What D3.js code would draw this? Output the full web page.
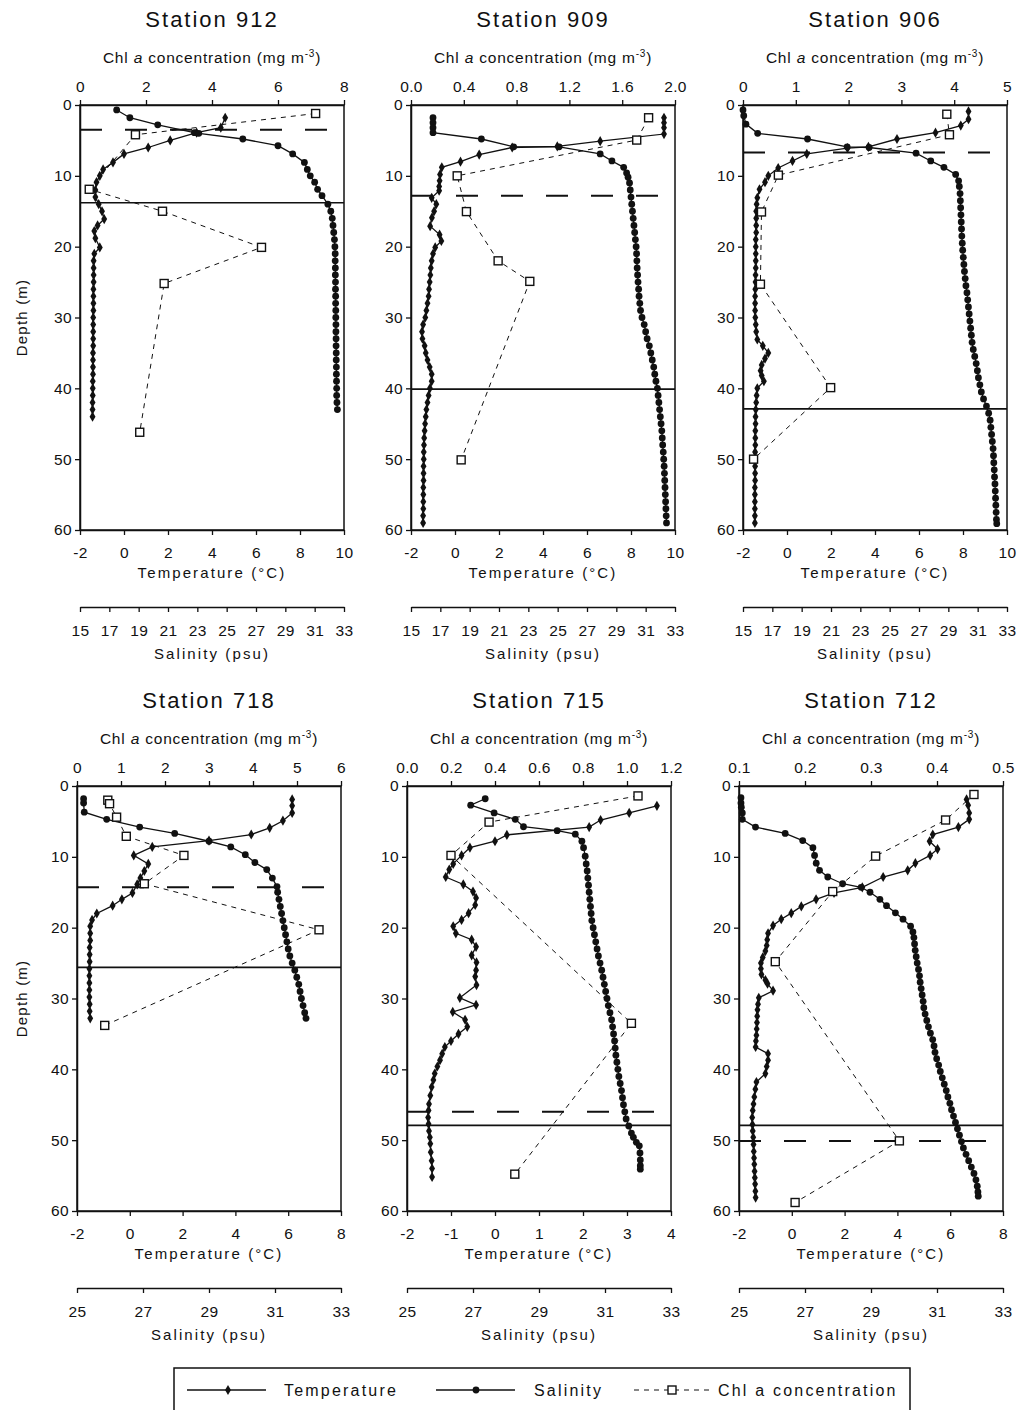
<!DOCTYPE html>
<html>
<head>
<meta charset="utf-8">
<script src="https://cdn.jsdelivr.net/npm/d3@7"></script>
<style>
  body { margin: 0; background: #fff; }
  svg text { font-family: "Liberation Sans", Arial, sans-serif; fill: #111; }
  .tick text { font-size: 15.5px; letter-spacing: 0.4px; }
  .title { font-size: 22px; letter-spacing: 2px; }
  .chl { font-size: 15.5px; letter-spacing: 0.8px; }
  .big { font-size: 15px; letter-spacing: 2.1px; }
  .leg { font-size: 16px; letter-spacing: 2.2px; }
</style>
</head>
<body>
<svg width="1023" height="1410"></svg>
<script>
var stations = ["Station 912", "Station 909", "Station 906", "Station 718", "Station 715", "Station 712"];

var chlDomains = [[0, 8], [0, 2], [0, 5], [0, 6], [0, 1.2], [0.1, 0.5]];
var chlTicks = [
  [0, 2, 4, 6, 8],
  [0, 0.4, 0.8, 1.2, 1.6, 2.0],
  [0, 1, 2, 3, 4, 5],
  [0, 1, 2, 3, 4, 5, 6],
  [0, 0.2, 0.4, 0.6, 0.8, 1.0, 1.2],
  [0.1, 0.2, 0.3, 0.4, 0.5]
];
var chlDecimals = [0, 1, 0, 0, 1, 1];
var tempDomains = [[-2, 10], [-2, 10], [-2, 10], [-2, 8], [-2, 4], [-2, 8]];
var tempTicks = [
  [-2, 0, 2, 4, 6, 8, 10],
  [-2, 0, 2, 4, 6, 8, 10],
  [-2, 0, 2, 4, 6, 8, 10],
  [-2, 0, 2, 4, 6, 8],
  [-2, -1, 0, 1, 2, 3, 4],
  [-2, 0, 2, 4, 6, 8]
];
var salDomains = [[15, 33], [15, 33], [15, 33], [25, 33], [25, 33], [25, 33]];
var salTicksUpper = [15, 17, 19, 21, 23, 25, 27, 29, 31, 33];
var salTicksLower = [25, 27, 29, 31, 33];
var depthTicks = [0, 10, 20, 30, 40, 50, 60];

// mixed layer lines (m)
var dashedDepth = [3.5, 12.8, 6.7, 14.3, 46.0, 50.1];
var solidDepth = [13.8, 40.1, 42.9, 25.6, 47.9, 47.9];

// [depth, value]
var t912 = [[1.8,4.6],[3.2,4.4],[3.9,3.3],[5.0,2.1],[6.0,1.1],[6.9,0.0],[8.1,-0.5],[9.1,-0.95],[10.0,-1.1],[10.9,-1.25],[12.0,-1.3],[13.0,-1.3],[14.0,-1.15],[15.0,-1.0],[16.1,-0.9],[17.0,-1.2],[17.8,-1.35],[18.8,-1.3],[20.1,-1.1],[21.0,-1.35],[22,-1.38],[23,-1.38],[24,-1.38],[25,-1.38],[26,-1.39],[27,-1.39],[28,-1.39],[29,-1.39],[30,-1.4],[31,-1.4],[32,-1.4],[33,-1.4],[34,-1.4],[35,-1.41],[36,-1.41],[37,-1.41],[38,-1.41],[39,-1.42],[40,-1.42],[41,-1.42],[42,-1.43],[43,-1.43],[44,-1.43]];
var s912 = [[0.7,17.5],[1.8,18.4],[2.8,20.3],[3.9,22.8],[4.0,23.1],[4.8,26.1],[5.75,28.5],[6.9,29.5],[8.1,30.3],[9.1,30.5],[10.0,30.7],[10.9,31.0],[11.9,31.2],[12.8,31.5],[14.0,31.9],[15.0,32.1],[16.0,32.2],[17.0,32.25],[18.0,32.3],[19,32.35],[20,32.38],[21,32.4],[22,32.4],[23,32.41],[24,32.41],[25,32.42],[26,32.42],[27,32.43],[28,32.43],[29,32.44],[30,32.44],[31,32.45],[32,32.45],[33,32.46],[34,32.46],[35,32.47],[36,32.47],[37,32.48],[38,32.48],[39,32.49],[40,32.5],[41,32.5],[42,32.52],[43,32.55]];
var c912 = [[1.2,7.14],[4.2,1.68],[11.9,0.28],[15.0,2.5],[20.1,5.5],[25.2,2.55],[46.2,1.81]];

var t909 = [[1.8,9.5],[2.5,9.5],[3.2,9.5],[4.1,9.5],[5.1,6.6],[5.85,4.65],[6.0,2.6],[7.0,1.1],[8.0,0.25],[8.8,-0.6],[9.8,-0.68],[10.7,-0.7],[11.5,-0.72],[12.1,-0.72],[13.1,-1.06],[14.0,-0.85],[15.0,-0.95],[15.9,-1.05],[17.1,-1.13],[18.3,-0.7],[19.2,-0.62],[20.1,-0.9],[21.0,-1.0],[22,-1.06],[23,-1.1],[24,-1.12],[25,-1.15],[26,-1.18],[27,-1.2],[28,-1.25],[29,-1.3],[30,-1.35],[31,-1.45],[32,-1.5],[33,-1.48],[34,-1.38],[35,-1.33],[36,-1.25],[37,-1.15],[38,-1.06],[39,-1.06],[40,-1.14],[41,-1.2],[42,-1.25],[43,-1.3],[44,-1.33],[45,-1.36],[46,-1.38],[47,-1.4],[48,-1.41],[49,-1.42],[50,-1.42],[51,-1.43],[52,-1.43],[53,-1.43],[54,-1.44],[55,-1.44],[56,-1.44],[57,-1.44],[58,-1.45],[59,-1.45]];
var s909 = [[1.8,16.5],[2.5,16.5],[3.2,16.5],[3.9,16.5],[4.8,19.8],[5.9,22.0],[5.9,25.1],[6.9,27.9],[7.9,28.7],[8.8,29.5],[9.6,29.7],[10.2,29.8],[11,29.9],[12,29.95],[13,30.0],[14,30.05],[15,30.1],[16,30.15],[17,30.2],[18,30.25],[19,30.3],[20,30.35],[21,30.38],[22,30.4],[23,30.42],[24,30.45],[25,30.48],[26,30.52],[27,30.55],[28,30.6],[29,30.65],[30,30.75],[31,30.9],[32,31.0],[33,31.1],[34,31.25],[35,31.35],[36,31.45],[37,31.55],[38,31.62],[39,31.7],[40,31.8],[41,31.85],[42,31.9],[43,31.95],[44,32.0],[45,32.05],[46,32.1],[47,32.13],[48,32.16],[49,32.2],[50,32.23],[51,32.26],[52,32.28],[53,32.3],[54,32.32],[55,32.34],[56,32.36],[57,32.38],[58,32.4],[59,32.42]];
var c909 = [[1.8,1.8],[4.95,1.71],[10.0,0.35],[15.05,0.42],[22.0,0.66],[24.9,0.9],[50.1,0.38]];

var t906 = [[0.9,8.25],[2.0,8.25],[2.9,7.9],[3.9,6.75],[4.8,5.0],[5.9,3.7],[6.1,2.75],[6.9,0.9],[7.9,0.25],[8.9,-0.4],[10.0,-0.85],[10.9,-1.0],[11.9,-1.25],[13.1,-1.35],[14,-1.38],[15,-1.4],[16,-1.4],[17,-1.4],[18,-1.4],[19,-1.42],[20,-1.42],[21,-1.42],[22,-1.42],[23,-1.42],[24,-1.43],[25,-1.43],[26,-1.44],[27,-1.45],[28,-1.45],[29,-1.45],[30,-1.44],[31,-1.42],[32,-1.4],[33.1,-1.35],[34,-1.1],[35,-0.85],[35.8,-1.0],[36.7,-1.15],[37.5,-1.2],[38.2,-1.15],[39,-1.05],[40,-1.35],[41,-1.38],[42,-1.4],[43,-1.42],[44,-1.43],[45,-1.43],[46,-1.44],[47,-1.44],[48,-1.44],[49,-1.45],[50,-1.45],[51,-1.45],[52,-1.45],[53,-1.45],[54,-1.46],[55,-1.46],[56,-1.46],[57,-1.46],[58,-1.46],[59,-1.46]];
var s906 = [[0.7,15.0],[1.5,15.05],[2.7,15.2],[4.0,16.0],[4.8,19.4],[5.9,22.1],[6.0,23.6],[6.8,26.8],[7.9,27.8],[8.8,28.7],[9.8,29.5],[10.7,29.7],[11.5,29.75],[12.5,29.8],[13.5,29.82],[14.5,29.84],[15.5,29.86],[16.5,29.88],[17.5,29.9],[18.5,29.92],[19.5,29.95],[20.5,29.98],[21.5,30.02],[22.5,30.06],[23.5,30.1],[24.5,30.15],[25.5,30.2],[26.5,30.27],[27.5,30.32],[28.5,30.37],[29.5,30.42],[30.5,30.47],[31.5,30.52],[32.5,30.57],[33.5,30.62],[34.5,30.7],[35.5,30.8],[36.5,30.9],[37.5,30.98],[38.5,31.05],[39.5,31.15],[40.5,31.25],[41.5,31.4],[42.5,31.6],[43.5,31.75],[44.5,31.85],[45.5,31.9],[46.5,31.95],[47.5,32.0],[48.5,32.05],[49.5,32.08],[50.5,32.1],[51.5,32.13],[52.5,32.15],[53.5,32.18],[54.5,32.2],[55.5,32.22],[56.5,32.24],[57.5,32.26],[58.5,32.28],[59.1,32.3]];
var c906 = [[1.3,3.86],[4.2,3.91],[9.9,0.67],[15.1,0.35],[25.3,0.33],[39.9,1.66],[50.0,0.2]];

var t718 = [[1.9,6.15],[2.8,6.15],[3.8,6.15],[4.9,5.8],[5.9,5.3],[6.85,4.6],[7.7,3.0],[8.6,0.85],[9.8,0.15],[11.0,0.7],[12.0,0.55],[13.0,0.4],[13.9,0.28],[15.1,0.1],[16.0,-0.3],[16.9,-0.65],[18.0,-1.25],[18.9,-1.43],[19.8,-1.5],[20.8,-1.5],[21.8,-1.5],[22.8,-1.52],[23.8,-1.52],[24.8,-1.52],[25.8,-1.53],[26.8,-1.53],[27.8,-1.53],[28.8,-1.53],[29.8,-1.53],[30.8,-1.52],[31.8,-1.52],[32.8,-1.5]];
var s718 = [[1.8,25.2],[2.4,25.2],[3.7,25.22],[4.7,25.9],[5.8,26.9],[6.7,27.96],[7.8,29.0],[8.6,29.66],[9.7,30.1],[10.8,30.39],[11.8,30.75],[13.0,30.92],[14.2,31.06],[15.0,31.08],[16.0,31.12],[17.0,31.16],[18.0,31.2],[19.0,31.24],[20.0,31.28],[21.0,31.32],[22.0,31.36],[23.0,31.4],[24.0,31.45],[25.0,31.52],[26.0,31.6],[27.0,31.66],[28.0,31.72],[29.0,31.76],[30.0,31.8],[31.0,31.85],[32.0,31.9],[32.8,31.94]];
var c718 = [[2.0,0.7],[2.5,0.74],[4.4,0.9],[7.1,1.12],[9.8,2.43],[13.8,1.53],[20.3,5.5],[33.8,0.63]];

var t715 = [[2.8,3.68],[3.8,3.05],[4.8,2.4],[5.8,2.14],[6.9,0.27],[7.8,0.0],[8.7,-0.57],[9.8,-0.76],[11.0,-0.95],[11.8,-1.04],[12.85,-1.12],[13.9,-0.72],[14.9,-0.5],[15.8,-0.43],[16.8,-0.45],[17.95,-0.6],[18.9,-0.76],[19.8,-0.95],[20.8,-0.89],[21.7,-0.53],[22.7,-0.43],[23.9,-0.53],[24.9,-0.42],[26.0,-0.43],[26.9,-0.45],[28.1,-0.42],[29.9,-0.8],[30.9,-0.43],[31.9,-0.96],[33.0,-0.68],[34.0,-0.63],[35.0,-0.83],[36.0,-1.0],[36.85,-1.14],[37.8,-1.2],[38.7,-1.25],[39.6,-1.31],[40.6,-1.37],[41.5,-1.4],[42.5,-1.44],[43.7,-1.47],[44.9,-1.5],[45.8,-1.51],[46.8,-1.52],[47.7,-1.51],[48.7,-1.5],[49.6,-1.48],[50.5,-1.47],[51.7,-1.46],[52.9,-1.44],[54.0,-1.43],[55.2,-1.43]];
var s715 = [[1.8,27.37],[2.7,26.93],[3.8,27.64],[4.7,28.28],[5.75,28.53],[6.3,29.55],[6.8,30.1],[7.8,30.3],[8.7,30.35],[9.9,30.4],[11,30.43],[12,30.46],[13,30.48],[14,30.5],[15,30.52],[16,30.54],[17,30.56],[18,30.58],[19,30.6],[20,30.64],[21,30.68],[22,30.72],[23,30.76],[24,30.8],[25,30.85],[26,30.9],[27,30.94],[28,30.98],[29,31.02],[30,31.06],[31,31.1],[32,31.15],[33,31.2],[34,31.23],[35,31.26],[36,31.29],[37,31.31],[38,31.33],[39,31.36],[40,31.39],[41,31.42],[42,31.46],[43,31.5],[44,31.53],[45,31.56],[46,31.6],[47,31.64],[48,31.72],[49,31.8],[49.6,31.86],[50.3,31.95],[50.8,32.04],[51.8,32.06],[52.8,32.07],[53.6,32.07],[54.1,32.07]];
var c715 = [[1.4,1.05],[5.1,0.373],[9.8,0.2],[33.5,1.02],[54.8,0.49]];

var t712 = [[1.9,6.62],[2.7,6.68],[3.8,6.72],[4.7,6.72],[5.8,6.31],[6.85,5.34],[7.8,5.22],[8.9,5.52],[9.8,5.24],[10.9,4.68],[11.9,4.39],[12.85,3.46],[14.3,2.67],[15.1,1.6],[16.0,0.92],[17.0,0.36],[17.95,-0.02],[18.8,-0.4],[19.7,-0.71],[20.8,-0.9],[21.7,-0.93],[22.5,-0.95],[23.3,-1.0],[24.2,-1.1],[25.0,-1.17],[25.8,-1.17],[26.6,-1.15],[27.4,-1.0],[27.9,-0.92],[28.9,-0.71],[29.9,-1.25],[30.8,-1.28],[31.6,-1.3],[32.5,-1.31],[33.4,-1.32],[34.3,-1.33],[35.2,-1.34],[36.0,-1.36],[36.85,-1.37],[37.8,-0.9],[38.7,-0.9],[39.6,-0.95],[40.6,-1.0],[41.8,-1.34],[42.8,-1.38],[43.9,-1.42],[44.9,-1.45],[45.8,-1.48],[46.8,-1.5],[47.8,-1.49],[48.7,-1.48],[49.6,-1.46],[50.6,-1.45],[51.6,-1.44],[52.5,-1.43],[53.4,-1.42],[54.4,-1.41],[55.3,-1.4],[56.2,-1.39],[57.2,-1.38],[58.1,-1.37]];
var s712 = [[1.65,25.06],[2.4,25.06],[3.0,25.07],[3.8,25.1],[4.7,25.1],[5.8,25.5],[6.7,26.4],[7.7,26.93],[8.7,27.24],[9.8,27.29],[10.9,27.34],[11.9,27.44],[12.85,27.69],[13.8,28.14],[14.3,28.7],[15.0,28.97],[16.0,29.27],[16.9,29.47],[17.9,29.74],[18.8,29.97],[19.8,30.2],[20.6,30.27],[21.4,30.3],[22.3,30.32],[23.2,30.34],[24.1,30.37],[25.0,30.4],[25.9,30.44],[26.8,30.47],[27.7,30.49],[28.6,30.52],[29.5,30.55],[30.4,30.58],[31.3,30.6],[32.2,30.64],[33.1,30.69],[34,30.74],[34.9,30.8],[35.8,30.87],[36.7,30.91],[37.6,30.94],[38.5,30.99],[39.4,31.05],[40.3,31.1],[41.2,31.16],[42.1,31.22],[43.0,31.28],[43.9,31.33],[44.8,31.39],[45.7,31.44],[46.6,31.5],[47.5,31.56],[48.4,31.62],[49.3,31.68],[50.2,31.74],[51.1,31.8],[52.0,31.88],[52.9,31.96],[53.8,32.04],[54.7,32.12],[55.6,32.18],[56.5,32.22],[57.3,32.24],[57.9,32.25]];
var c712 = [[1.2,0.456],[4.8,0.413],[9.9,0.307],[14.9,0.242],[24.8,0.155],[50.1,0.343],[58.8,0.185]];

var temperature = [t912, t909, t906, t718, t715, t712];
var salinity = [s912, s909, s906, s718, s715, s712];
var chl = [c912, c909, c906, c718, c715, c712];

// layout
var panelLeft = [80, 411, 743, 77, 407, 739],
  panelWidth = 264,
  rowTop = [105, 786],
  rowBottom = [530, 1211];

var svg = d3.select("svg");
var diamond = d3.symbol().type(d3.symbolDiamond).size(30);

function fmt(dec) {
  return function (v) { return dec ? v.toFixed(dec) : String(v); };
}

function chlLabel(g, x, y) {
  var t = g.append("text").attr("class", "chl").attr("x", x).attr("y", y).attr("text-anchor", "middle");
  t.append("tspan").text("Chl ");
  t.append("tspan").attr("font-style", "italic").text("a");
  t.append("tspan").text(" concentration (mg m");
  t.append("tspan").attr("font-size", "10px").attr("dy", -6).text("-3");
  t.append("tspan").attr("dy", 6).text(")");
}

function styleAxis(sel) {
  sel.select(".domain").attr("stroke", "#111").attr("stroke-width", 1.5);
  sel.selectAll(".tick line").attr("stroke", "#111").attr("stroke-width", 1.3);
}

stations.forEach(function (name, i) {
  var row = i < 3 ? 0 : 1;
  var x0 = panelLeft[i], x1 = x0 + panelWidth, top = rowTop[row], bottom = rowBottom[row];
  var g = svg.append("g");

  var y = d3.scaleLinear().domain([0, 60]).range([top, bottom]);
  var xT = d3.scaleLinear().domain(tempDomains[i]).range([x0, x1]);
  var xS = d3.scaleLinear().domain(salDomains[i]).range([x0, x1]);
  var xC = d3.scaleLinear().domain(chlDomains[i]).range([x0, x1]);
  var cx = (x0 + x1) / 2;

  g.append("text").attr("class", "title").attr("x", cx).attr("y", top - 78)
    .attr("text-anchor", "middle").text(name);
  chlLabel(g, cx, top - 42);

  // frame
  g.append("rect").attr("x", x0).attr("y", top).attr("width", panelWidth).attr("height", bottom - top)
    .attr("fill", "none").attr("stroke", "#111").attr("stroke-width", 1.5);

  g.append("g").attr("transform", "translate(0," + top + ")")
    .call(d3.axisTop(xC).tickValues(chlTicks[i]).tickFormat(fmt(chlDecimals[i])).tickSize(5).tickSizeOuter(0).tickPadding(8))
    .call(styleAxis);
  g.append("g").attr("transform", "translate(" + x0 + ",0)")
    .call(d3.axisLeft(y).tickValues(depthTicks).tickSize(5).tickSizeOuter(0).tickPadding(3))
    .call(styleAxis);
  g.append("g").attr("transform", "translate(0," + bottom + ")")
    .call(d3.axisBottom(xT).tickValues(tempTicks[i]).tickFormat(fmt(0)).tickSize(5).tickSizeOuter(0).tickPadding(12))
    .call(styleAxis);
  g.append("text").attr("class", "big").attr("x", cx).attr("y", bottom + 48).attr("text-anchor", "middle")
    .text("Temperature (°C)");

  g.append("g").attr("transform", "translate(0," + (bottom + 77) + ")")
    .call(d3.axisBottom(xS).tickValues(row ? salTicksLower : salTicksUpper).tickFormat(fmt(0)).tickSize(5).tickSizeOuter(0).tickPadding(13))
    .call(styleAxis);
  g.append("text").attr("class", "big").attr("x", cx).attr("y", bottom + 129).attr("text-anchor", "middle")
    .text("Salinity (psu)");

  if (i % 3 === 0) {
    var ym = (top + bottom) / 2;
    g.append("text").attr("class", "big").attr("transform", "translate(27," + ym + ") rotate(-90)")
      .attr("text-anchor", "middle").style("letter-spacing", "1.2px").text("Depth (m)");
  }

  // mixed layer markers
  g.append("line").attr("x1", x0).attr("x2", x1 - 14)
    .attr("y1", y(dashedDepth[i])).attr("y2", y(dashedDepth[i]))
    .attr("stroke", "#111").attr("stroke-width", 2).attr("stroke-dasharray", "22,23");
  g.append("line").attr("x1", x0).attr("x2", x1)
    .attr("y1", y(solidDepth[i])).attr("y2", y(solidDepth[i]))
    .attr("stroke", "#111").attr("stroke-width", 1.7);

  // temperature
  var lineT = d3.line().x(function (d) { return xT(d[1]); }).y(function (d) { return y(d[0]); });
  g.append("path").datum(temperature[i]).attr("d", lineT)
    .attr("fill", "none").attr("stroke", "#111").attr("stroke-width", 1.3);
  g.selectAll(".tm").data(temperature[i]).enter().append("path").attr("class", "tm")
    .attr("d", diamond).attr("fill", "#111")
    .attr("transform", function (d) { return "translate(" + xT(d[1]) + "," + y(d[0]) + ")"; });

  // salinity
  var lineS = d3.line().x(function (d) { return xS(d[1]); }).y(function (d) { return y(d[0]); });
  g.append("path").datum(salinity[i]).attr("d", lineS)
    .attr("fill", "none").attr("stroke", "#111").attr("stroke-width", 1.3);
  g.selectAll(".sm").data(salinity[i]).enter().append("circle").attr("class", "sm")
    .attr("r", 3.4).attr("fill", "#111")
    .attr("cx", function (d) { return xS(d[1]); }).attr("cy", function (d) { return y(d[0]); });

  // chl a
  var lineC = d3.line().x(function (d) { return xC(d[1]); }).y(function (d) { return y(d[0]); });
  g.append("path").datum(chl[i]).attr("d", lineC)
    .attr("fill", "none").attr("stroke", "#111").attr("stroke-width", 1).attr("stroke-dasharray", "5,5");
  g.selectAll(".cm").data(chl[i]).enter().append("rect").attr("class", "cm")
    .attr("width", 8).attr("height", 8).attr("fill", "#fff").attr("stroke", "#111").attr("stroke-width", 1.4)
    .attr("x", function (d) { return xC(d[1]) - 4; }).attr("y", function (d) { return y(d[0]) - 4; });
});

// legend
var lg = svg.append("g");
lg.append("rect").attr("x", 174).attr("y", 1368).attr("width", 736).attr("height", 46)
  .attr("fill", "none").attr("stroke", "#111").attr("stroke-width", 1.5);
var ly = 1390;
lg.append("line").attr("x1", 187).attr("x2", 266).attr("y1", ly).attr("y2", ly).attr("stroke", "#111").attr("stroke-width", 1.4);
lg.append("path").attr("d", diamond).attr("fill", "#111").attr("transform", "translate(228," + ly + ")");
lg.append("text").attr("class", "leg").attr("x", 284).attr("y", ly + 6).text("Temperature");
lg.append("line").attr("x1", 436).attr("x2", 515).attr("y1", ly).attr("y2", ly).attr("stroke", "#111").attr("stroke-width", 1.4);
lg.append("circle").attr("cx", 476).attr("cy", ly).attr("r", 3.4).attr("fill", "#111");
lg.append("text").attr("class", "leg").attr("x", 534).attr("y", ly + 6).text("Salinity");
lg.append("line").attr("x1", 634).attr("x2", 710).attr("y1", ly).attr("y2", ly).attr("stroke", "#111").attr("stroke-width", 1).attr("stroke-dasharray", "5,5");
lg.append("rect").attr("x", 668).attr("y", ly - 4).attr("width", 8).attr("height", 8).attr("fill", "#fff").attr("stroke", "#111").attr("stroke-width", 1.4);
lg.append("text").attr("class", "leg").attr("x", 718).attr("y", ly + 6).text("Chl a concentration");
</script>
</body>
</html>
